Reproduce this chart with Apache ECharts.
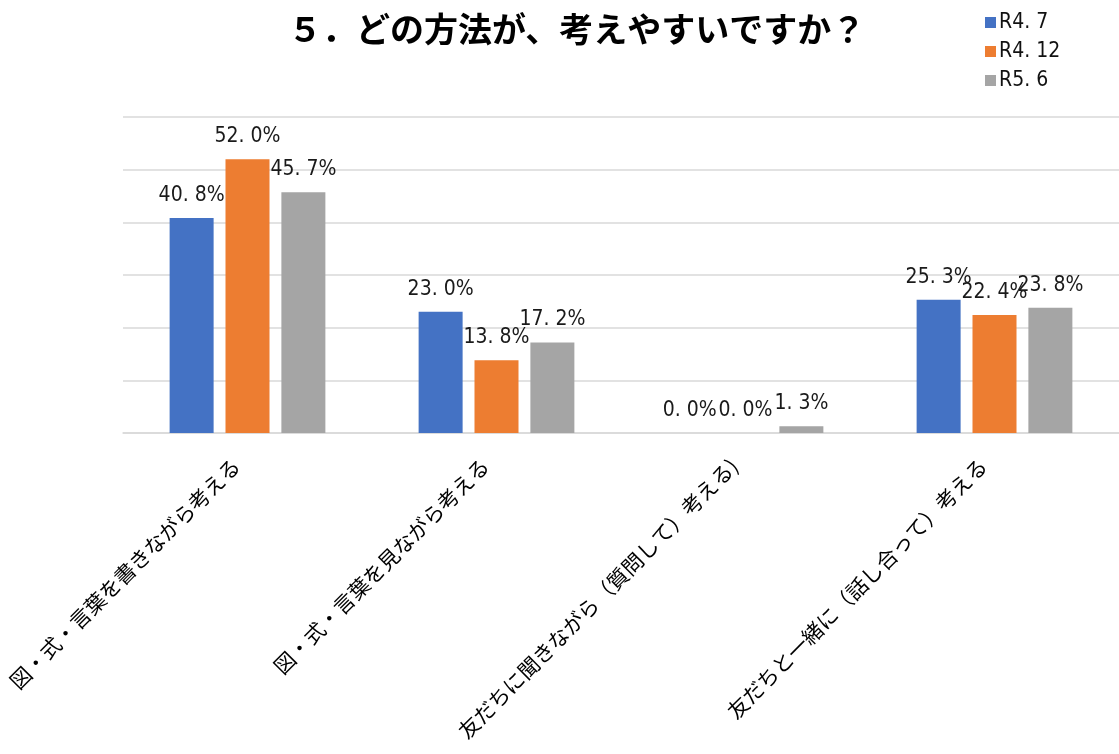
<!DOCTYPE html>
<html><head><meta charset="utf-8">
<script src="https://cdn.jsdelivr.net/npm/echarts@6/dist/echarts.min.js"></script>
<style>html,body{margin:0;padding:0;background:#fff}#c{width:1119px;height:754px}</style>
</head><body><div id="c"></div>
<script>
const titleText = '５．どの方法が、考えやすいですか？';
const categories = ['図・式・言葉を書きながら考える','図・式・言葉を見ながら考える','友だちに聞きながら（質問して）考える)','友だちと一緒に（話し合って）考える'];
const seriesNames = ['R4.7','R4.12','R5.6'];
const legendLabels = ['R4. 7','R4. 12','R5. 6'];
const r47 = [40.8, 23.0, 0.0, 25.3];
const r412 = [52.0, 13.8, 0.0, 22.4];
const r56 = [45.7, 17.2, 1.3, 23.8];
const colors = ['#4472C4','#ED7D31','#A5A5A5'];
const numFont = '"DejaVu Sans Condensed","Liberation Sans Narrow",sans-serif';
const jpFont = '"Noto Sans CJK JP",sans-serif';
const chart = echarts.init(document.getElementById('c'));
const allData = [r47, r412, r56];
chart.setOption({
  animation:false,
  backgroundColor:'#fff',
  title:{text:titleText,left:283,top:7,textStyle:{fontFamily:jpFont,fontSize:34,fontWeight:'bold',color:'#000'}},
  legend:{orient:'vertical',left:980,top:7,itemWidth:11,itemHeight:11,itemGap:8,icon:'rect',
    formatter:n=>legendLabels[seriesNames.indexOf(n)],
    textStyle:{fontFamily:numFont,fontSize:21,color:'#111',padding:[0,0,0,-2]}},
  grid:{left:123,right:0,top:117,bottom:321,containLabel:false},
  xAxis:{type:'category',data:categories,
    axisLine:{lineStyle:{color:'#d9d9d9',width:1.5}},axisTick:{show:false},
    axisLabel:{rotate:45,interval:0,margin:18,padding:[0,16,0,0],fontFamily:jpFont,fontSize:21,color:'#000'}},
  yAxis:{type:'value',min:0,max:60,interval:10,axisLabel:{show:false},axisLine:{show:false},axisTick:{show:false},
    splitLine:{lineStyle:{color:'#d9d9d9',width:1.5}}},
  series: seriesNames.map((n,i)=>({name:n,type:'bar',data:allData[i],barWidth:44,barGap:'27%',
    itemStyle:{color:colors[i]},
    label:{show:true,position:'top',distance:12,formatter:p=>p.value.toFixed(1).replace('.', '. ')+'%',
      fontFamily:numFont,fontSize:21,color:'#1a1a1a'}}))
});
</script></body></html>
